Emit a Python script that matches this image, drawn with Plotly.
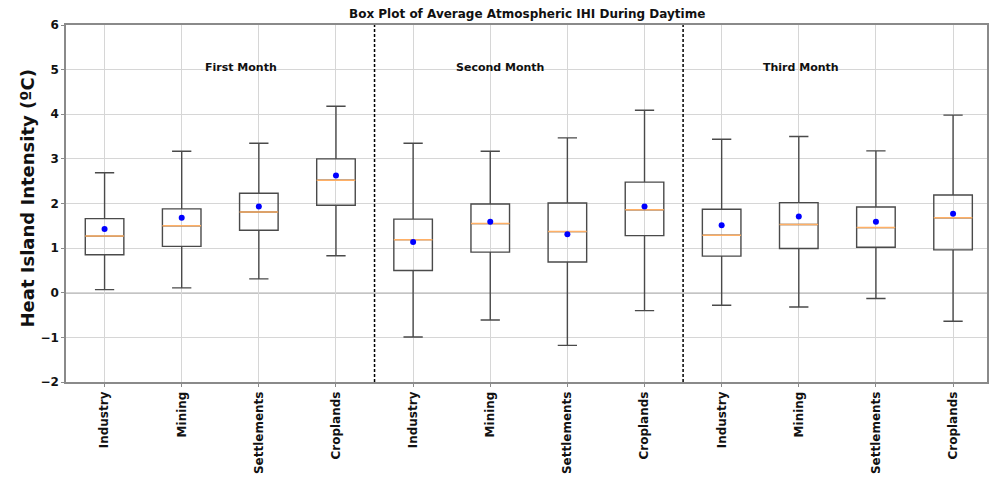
import plotly.graph_objects as go

categories = ["Industry", "Mining", "Settlements", "Croplands"] * 3
months = ["First Month", "Second Month", "Third Month"]
month_label_pos = [2.77, 6.13, 10.03]
month_label_y = 5.05
separators = [4.5, 8.5]

lower_whisker = [0.07, 0.11, 0.31, 0.83, -0.99, -0.61, -1.18, -0.40, -0.28, -0.32, -0.13, -0.64]
q1 = [0.85, 1.04, 1.40, 1.96, 0.50, 0.91, 0.69, 1.28, 0.82, 0.99, 1.02, 0.96]
median = [1.27, 1.50, 1.81, 2.52, 1.19, 1.55, 1.37, 1.86, 1.29, 1.53, 1.46, 1.68]
q3 = [1.66, 1.88, 2.23, 3.00, 1.65, 1.99, 2.01, 2.48, 1.87, 2.02, 1.92, 2.19]
upper_whisker = [2.69, 3.17, 3.35, 4.18, 3.35, 3.17, 3.47, 4.09, 3.44, 3.50, 3.18, 3.98]
mean = [1.43, 1.68, 1.93, 2.63, 1.14, 1.59, 1.31, 1.93, 1.51, 1.71, 1.59, 1.77]

positions = list(range(1, len(categories) + 1))
BOX_W = 0.5
FONT = "DejaVu Sans"

fig = go.Figure()
for i, p in enumerate(positions):
    fig.add_trace(go.Box(
        x=[p], q1=[q1[i]], median=[median[i]], q3=[q3[i]],
        lowerfence=[lower_whisker[i]], upperfence=[upper_whisker[i]],
        width=BOX_W, whiskerwidth=0.5,
        line=dict(color="#4a4a4a", width=1.4),
        fillcolor="rgba(255,255,255,0)",
        boxpoints=False, showlegend=False, hoverinfo="skip",
    ))
    fig.add_trace(go.Scatter(
        x=[p - BOX_W / 2, p + BOX_W / 2], y=[median[i], median[i]],
        mode="lines", line=dict(color="#ffb066", width=1.5),
        showlegend=False, hoverinfo="skip",
    ))

fig.add_trace(go.Scatter(
    x=positions, y=mean, mode="markers",
    marker=dict(color="#0000ff", size=6),
    showlegend=False, hoverinfo="skip",
))

# zero line
fig.add_hline(y=0, line=dict(color="#8a8a8a", width=1.6), layer="below")
for s in separators:
    fig.add_vline(x=s, line=dict(color="#000000", width=1.5, dash="3px,2px"))

for m, xp in zip(months, month_label_pos):
    fig.add_annotation(x=xp, y=month_label_y, text="<b>%s</b>" % m, showarrow=False,
                       font=dict(family=FONT, size=11, color="#111"),
                       xanchor="center", yanchor="middle")

fig.add_annotation(x=0.5, y=1, xref="paper", yref="paper", yshift=11,
                   text="<b>Box Plot of Average Atmospheric IHI During Daytime</b>",
                   showarrow=False, font=dict(family=FONT, size=12, color="#111"),
                   xanchor="center", yanchor="middle")

fig.add_annotation(x=0, y=0.5, xref="paper", yref="paper", xshift=-39, yshift=5,
                   text="<b>Heat Island Intensity (ºC)</b>", textangle=-90,
                   showarrow=False, font=dict(family=FONT, size=18, color="#111"),
                   xanchor="center", yanchor="middle")

fig.update_layout(
    width=989, height=480,
    margin=dict(l=66, r=0, t=25, b=98),
    paper_bgcolor="white", plot_bgcolor="white",
    boxmode="overlay",
    xaxis=dict(
        range=[0.5, 12.44], tickmode="array", tickvals=positions,
        ticktext=["<b>%s</b>" % c for c in categories], tickangle=-90,
        tickfont=dict(family=FONT, size=12, color="#111"),
        showgrid=True, gridcolor="#d6d6d6", gridwidth=1,
        showline=True, linecolor="#8a8a8a", linewidth=1.5, mirror=True,
        ticks="outside", ticklen=3, tickcolor="#8a8a8a",
        zeroline=False,
    ),
    yaxis=dict(
        range=[-2, 6], tickmode="array", tickvals=list(range(-2, 7)),
        ticktext=["<b>%s</b>" % (("−%d" % -v) if v < 0 else str(v)) for v in range(-2, 7)],
        tickfont=dict(family=FONT, size=12, color="#111"),
        showgrid=True, gridcolor="#d6d6d6", gridwidth=1,
        showline=True, linecolor="#8a8a8a", linewidth=1.5, mirror=True,
        ticks="outside", ticklen=3, tickcolor="#8a8a8a",
        zeroline=False,
    ),
)

fig.write_html("out.html")
